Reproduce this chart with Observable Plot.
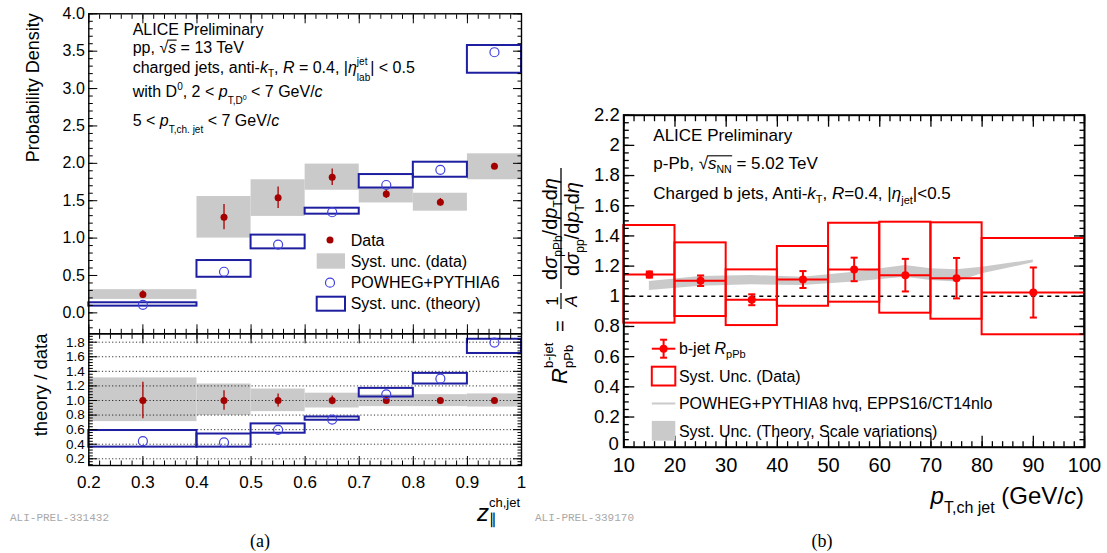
<!DOCTYPE html>
<html><head><meta charset="utf-8">
<script src="https://cdn.jsdelivr.net/npm/d3@7"></script>
<script src="https://cdn.jsdelivr.net/npm/@observablehq/plot@0.6"></script>
<style>
body{margin:0;background:#fff;}
#wrap{position:relative;width:1107px;height:553px;overflow:hidden;background:#fff;font-family:"Liberation Sans",Arial,sans-serif;}
</style></head><body><div id="wrap"></div>
<script>
// ---------- (a) D0-jet z distribution ----------
const zLo      = [0.2, 0.4, 0.5, 0.6, 0.7, 0.8, 0.9];
const zHi      = [0.4, 0.5, 0.6, 0.7, 0.8, 0.9, 1.0];
const zMid     = [0.3, 0.45, 0.55, 0.65, 0.75, 0.85, 0.95];
const dataVal  = [0.245, 1.28, 1.54, 1.815, 1.59, 1.48, 1.96];
const dataStat = [0.05, 0.17, 0.145, 0.11, 0.06, 0.05, 0.04];
const dataSysLo= [0.18, 1.00, 1.29, 1.64, 1.47, 1.36, 1.78];
const dataSysHi= [0.31, 1.556, 1.78, 1.99, 1.67, 1.60, 2.127];
const thVal    = [0.108, 0.55, 0.914, 1.346, 1.71, 1.913, 3.486];
const thLo     = [0.09, 0.476, 0.856, 1.32, 1.67, 1.814, 3.205];
const thHi     = [0.135, 0.70, 1.04, 1.40, 1.85, 2.015, 3.576];
// ratio theory / data
const ratStat  = [0.25, 0.135, 0.09, 0.06, 0.04, 0.03, 0.02];
const ratSysLo = [0.71, 0.793, 0.847, 0.897, 0.916, 0.916, 0.91];
const ratSysHi = [1.31, 1.226, 1.157, 1.10, 1.08, 1.08, 1.09];
const ratTh    = [0.442, 0.424, 0.597, 0.738, 1.084, 1.299, 1.795];
const ratThLo  = [0.36, 0.36, 0.551, 0.729, 1.048, 1.226, 1.645];
const ratThHi  = [0.588, 0.54, 0.679, 0.774, 1.166, 1.372, 1.84];
const aTopYTicks = [0, 0.5, 1, 1.5, 2, 2.5, 3, 3.5, 4];
const aXTicks    = [0.2, 0.3, 0.4, 0.5, 0.6, 0.7, 0.8, 0.9, 1];
const aRatTicks  = [0.2, 0.4, 0.6, 0.8, 1.0, 1.2, 1.4, 1.6, 1.8];

// ---------- (b) b-jet RpPb ----------
const ptLo    = [10, 20, 30, 40, 50, 60, 70, 80];
const ptHi    = [20, 30, 40, 50, 60, 70, 80, 100];
const ptMid   = [15, 25, 35, 45, 55, 65, 75, 90];
const rpPb    = [1.144, 1.103, 0.977, 1.111, 1.178, 1.14, 1.12, 1.025];
const rStat   = [0.02, 0.035, 0.036, 0.056, 0.078, 0.108, 0.134, 0.166];
const rSysLo  = [0.822, 0.866, 0.806, 0.934, 0.961, 0.888, 0.848, 0.745];
const rSysHi  = [1.469, 1.354, 1.175, 1.33, 1.484, 1.491, 1.487, 1.383];
const bandPt  = [15, 25, 35, 45, 55, 65, 70, 75, 80, 90];
const bandLo  = [1.038, 1.067, 1.076, 1.071, 1.094, 1.127, 1.105, 1.094, 1.149, 1.222];
const bandHi  = [1.098, 1.131, 1.138, 1.127, 1.16, 1.204, 1.182, 1.176, 1.193, 1.24];
const bYTicks = [0.2, 0.4, 0.6, 0.8, 1, 1.2, 1.4, 1.6, 1.8, 2, 2.2];
const bYZero  = [0];
const bXTicks = [10, 20, 30, 40, 50, 60, 70, 80, 90, 100];

// ---------- build tables ----------
const zRows = zMid.map((c, i) => ({lo: zLo[i], hi: zHi[i], c, v: dataVal[i], s: dataStat[i],
  sl: dataSysLo[i], sh: dataSysHi[i], t: thVal[i], tl: thLo[i], th: thHi[i],
  rs: ratStat[i], rsl: ratSysLo[i], rsh: ratSysHi[i], rt: ratTh[i], rtl: ratThLo[i], rth: ratThHi[i]}));
const bRows = ptMid.map((c, i) => ({lo: ptLo[i], hi: ptHi[i], c, v: rpPb[i], s: rStat[i], sl: rSysLo[i], sh: rSysHi[i]}));
const band = bandPt.map((x, i) => ({x, lo: bandLo[i], hi: bandHi[i]}));

const DRED = "#a50000", GREY = "#cacaca", BLUE = "#1e1ea0", CBLUE = "#4040e0", RED = "#ff0000";
const FONT = "'Liberation Sans', Arial, Helvetica, sans-serif";
const STYLE = {background: "transparent", overflow: "visible", fontFamily: FONT, color: "black", maxWidth: "none"};
const none = () => "";

function frameTicks(xMaj, xMin, yMaj, yMin, L, sw) {
  const out = [];
  for (const anchor of ["left", "right"]) {
    out.push(Plot.axisY({anchor, ticks: yMaj, tickSize: -L.yM, tickFormat: none, label: null, strokeWidth: sw}));
    out.push(Plot.axisY({anchor, ticks: yMin, tickSize: -L.ym, tickFormat: none, label: null, strokeWidth: sw}));
  }
  for (const anchor of ["top", "bottom"]) {
    out.push(Plot.axisX({anchor, ticks: xMaj, tickSize: -L.xM, tickFormat: none, label: null, strokeWidth: sw}));
    out.push(Plot.axisX({anchor, ticks: xMin, tickSize: -L.xm, tickFormat: none, label: null, strokeWidth: sw}));
  }
  return out;
}
const fmt1 = d => (+d).toFixed(1);
const fmtG = d => String(+(+d).toFixed(2));

const wrap = document.getElementById("wrap");
function place(el, left, top) {
  el.style.position = "absolute"; el.style.left = left + "px"; el.style.top = top + "px";
  wrap.appendChild(el);
}

// ---------- (a) top panel ----------
const capSym = {draw(ctx, size) { const w = Math.sqrt(size); ctx.moveTo(-w, 0); ctx.lineTo(w, 0); }};

const pTop = Plot.plot({
  width: 540, height: 340,
  marginLeft: 88.3, marginRight: 19, marginTop: 13.3, marginBottom: 6.7,
  style: STYLE,
  x: {domain: [0.2, 1]},
  y: {domain: [-0.28, 4.0]},
  marks: [
    Plot.rect(zRows, {x1: "lo", x2: "hi", y1: "sl", y2: "sh", fill: GREY}),
    Plot.rect(zRows, {x1: "lo", x2: "hi", y1: "tl", y2: "th", stroke: BLUE, strokeWidth: 2, fill: "none"}),
    Plot.ruleX(zRows, {x: "c", y1: d => d.v - d.s, y2: d => d.v + d.s, stroke: DRED, strokeWidth: 1.3}),
    Plot.dot(zRows, {x: "c", y: "v", r: 3.5, fill: DRED}),
    Plot.dot(zRows, {x: "c", y: "t", r: 4.5, stroke: CBLUE, strokeWidth: 1.2, fill: "none"}),
    Plot.axisY({ticks: aTopYTicks, tickSize: 0, tickPadding: 4, tickFormat: fmt1, label: null, fontSize: 16}),
    ...frameTicks(aXTicks, d3.range(0.2, 1.0001, 0.02), aTopYTicks, d3.range(-0.2, 4.0001, 0.1),
      {yM: 9, ym: 4.5, xM: 9, xm: 4.5}, 1),
    Plot.frame({stroke: "black", strokeWidth: 1.4})
  ]
});
place(pTop, 0, 0);

// ---------- (a) ratio panel ----------
const pRat = Plot.plot({
  width: 540, height: 200,
  marginLeft: 88.3, marginRight: 19, marginTop: 13.3, marginBottom: 55,
  style: STYLE,
  x: {domain: [0.2, 1]},
  y: {domain: [0.108, 1.915]},
  marks: [
    Plot.rect(zRows, {x1: "lo", x2: "hi", y1: "rsl", y2: "rsh", fill: GREY}),
    Plot.ruleY(aRatTicks, {stroke: "black", strokeWidth: 0.8, strokeDasharray: "1.2,2.2"}),
    Plot.rect(zRows, {x1: "lo", x2: "hi", y1: "rtl", y2: "rth", stroke: BLUE, strokeWidth: 2, fill: "none"}),
    Plot.ruleX(zRows, {x: "c", y1: d => 1 - d.rs, y2: d => 1 + d.rs, stroke: DRED, strokeWidth: 1.3}),
    Plot.dot(zRows, {x: "c", y: () => 1, r: 3.5, fill: DRED}),
    Plot.dot(zRows, {x: "c", y: "rt", r: 4.5, stroke: CBLUE, strokeWidth: 1.2, fill: "none"}),
    Plot.axisY({ticks: aRatTicks, tickSize: 0, tickPadding: 4, tickFormat: fmt1, label: null, fontSize: 13.5}),
    Plot.axisX({ticks: aXTicks, tickSize: 0, tickPadding: 10, tickFormat: fmtG, label: null, fontSize: 17}),
    ...frameTicks(aXTicks, d3.range(0.2, 1.0001, 0.02), aRatTicks, d3.range(0.12, 1.9, 0.04),
      {yM: 9, ym: 4.5, xM: 9, xm: 4.5}, 1),
    Plot.frame({stroke: "black", strokeWidth: 1.4})
  ]
});
place(pRat, 0, 320);

// ---------- (b) RpPb panel ----------
const pB = Plot.plot({
  width: 567, height: 380,
  marginLeft: 83.3, marginRight: 23, marginTop: 14.7, marginBottom: 33.3,
  style: STYLE,
  x: {domain: [10, 100]},
  y: {domain: [0, 2.2]},
  marks: [
    Plot.areaY(band, {x: "x", y1: "lo", y2: "hi", fill: GREY}),
    Plot.ruleY([1], {stroke: "black", strokeWidth: 1.6, strokeDasharray: "4,4"}),
    Plot.rect(bRows, {x1: "lo", x2: "hi", y1: "sl", y2: "sh", stroke: RED, strokeWidth: 2, fill: "none"}),
    Plot.ruleY(bRows, {y: "v", x1: "lo", x2: "hi", stroke: RED, strokeWidth: 2}),
    Plot.ruleX(bRows, {x: "c", y1: d => d.v - d.s, y2: d => d.v + d.s, stroke: RED, strokeWidth: 2}),
    Plot.dot(bRows, {x: "c", y: d => d.v + d.s, symbol: capSym, r: 2, stroke: RED, strokeWidth: 2}),
    Plot.dot(bRows, {x: "c", y: d => d.v - d.s, symbol: capSym, r: 2, stroke: RED, strokeWidth: 2}),
    Plot.dot(bRows, {x: "c", y: "v", r: 4, fill: RED}),
    Plot.axisY({ticks: bYTicks, tickSize: 0, tickPadding: 4, tickFormat: fmtG, label: null, fontSize: 18.5}),
    Plot.axisY({ticks: bYZero, tickSize: 0, tickPadding: 5, tickFormat: fmtG, label: null, fontSize: 18.5, dy: -3}),
    Plot.axisX({ticks: bXTicks, tickSize: 0, tickPadding: 11, tickFormat: fmtG, label: null, fontSize: 20}),
    ...frameTicks(bXTicks, d3.range(10, 100.1, 2), [...bYZero, ...bYTicks], d3.range(0, 2.2001, 0.05),
      {yM: 11, ym: 5.5, xM: 11, xm: 5.5}, 1.3),
    Plot.frame({stroke: "black", strokeWidth: 2})
  ]
});
place(pB, 540, 100);

// ---------- annotation overlay ----------
const ov = d3.select(wrap).append("svg").attr("width", 1107).attr("height", 553)
  .style("position", "absolute").style("left", "0px").style("top", "0px").style("overflow", "visible")
  .attr("font-family", FONT);

// rich text: segs = [{t, it, fs, off, back}]
function rich(parent, x, y, fs, segs, anchor = "start") {
  const t = parent.append("text").attr("x", x).attr("y", y).attr("font-size", fs).attr("text-anchor", anchor).attr("fill", "black");
  let cur = 0, prev = null;
  for (const s0 of segs) {
    const s = typeof s0 === "string" ? {t: s0} : s0;
    const off = s.off || 0;
    const sp = t.append("tspan").text(s.t).attr("dy", off - cur);
    cur = off;
    if (s.fs) sp.attr("font-size", s.fs);
    if (s.it) sp.attr("font-style", "italic");
    if (s.back && prev) sp.attr("dx", -prev.node().getComputedTextLength());
    if (s.dx) sp.attr("dx", s.dx);
    prev = sp;
  }
  return t;
}
function overlineChars(parent, textSel, i0, i1, y) {
  const n = textSel.node();
  const a = n.getExtentOfChar(i0), b = n.getExtentOfChar(i1);
  parent.append("line").attr("x1", a.x + a.width - 0.8).attr("x2", b.x + b.width + 0.5)
    .attr("y1", y).attr("y2", y).attr("stroke", "black").attr("stroke-width", 1.1);
}

// (a) texts
const ax = 132.7;
rich(ov, ax, 35, 16, ["ALICE Preliminary"]);
const l2 = rich(ov, ax, 52.7, 16, ["pp, ", "\u221A", {t: "s", it: true}, " = 13 TeV"]);
overlineChars(ov, l2, 4, 5, 52.7 - 12.6);
rich(ov, ax, 72.7, 16, ["charged jets, anti-", {t: "k", it: true}, {t: "T", fs: 10, off: 4}, {t: ", ", off: 0},
  {t: "R", it: true}, " = 0.4, |", {t: "\u03B7", it: true}, {t: "jet", fs: 10, off: -8}, {t: "lab", fs: 10, off: 8, back: true},
  {t: "| < 0.5", off: 0}]);
rich(ov, ax, 97.3, 16, ["with D", {t: "0", fs: 10, off: -7}, {t: ", 2 < ", off: 0}, {t: "p", it: true},
  {t: "T,D", fs: 10, off: 7}, {t: "0", fs: 7, off: 3}, {t: " < 7 GeV/", off: 0}, {t: "c", it: true}]);
rich(ov, ax, 126, 16, ["5 < ", {t: "p", it: true}, {t: "T,ch. jet", fs: 10, off: 7}, {t: " < 7 GeV/", off: 0}, {t: "c", it: true}]);

// (a) legend
ov.append("circle").attr("cx", 330).attr("cy", 240).attr("r", 3.5).attr("fill", DRED);
rich(ov, 350.7, 245.5, 16, ["Data"]);
ov.append("rect").attr("x", 316.7).attr("y", 253.3).attr("width", 28.3).attr("height", 15.4).attr("fill", GREY);
rich(ov, 350.7, 267.4, 16, ["Syst. unc. (data)"]);
ov.append("circle").attr("cx", 330).attr("cy", 282.7).attr("r", 4.5).attr("fill", "none").attr("stroke", CBLUE).attr("stroke-width", 1.2);
rich(ov, 350.7, 288.4, 16, ["POWHEG+PYTHIA6"]);
ov.append("rect").attr("x", 316.7).attr("y", 296.7).attr("width", 28.3).attr("height", 14).attr("fill", "none").attr("stroke", BLUE).attr("stroke-width", 2);
rich(ov, 350.7, 309.4, 16, ["Syst. unc. (theory)"]);

// (a) axis titles
rich(ov, 0, 0, 18, ["Probability Density"], "end").attr("transform", "translate(39.3,13.3) rotate(-90)");
rich(ov, 0, 0, 18.5, ["theory / data"], "end").attr("transform", "translate(47,333.5) rotate(-90)");
rich(ov, 520, 521, 24, [{t: "z", it: true}, {t: "\u2225", fs: 15, off: 3}, {t: "ch,jet", fs: 13, off: -14, back: true}], "end");

// (b) texts
const bx = 653.3;
rich(ov, bx, 140.7, 17, ["ALICE Preliminary"]);
const b2 = rich(ov, bx, 169.3, 17, ["p-Pb, ", "\u221A", {t: "s", it: true}, {t: "NN", fs: 10.5, off: 4}, {t: " = 5.02 TeV", off: 0}]);
overlineChars(ov, b2, 6, 9, 169.3 - 13.5);
rich(ov, bx, 199.3, 17, ["Charged b jets, Anti-", {t: "k", it: true}, {t: "T", fs: 11, off: 4}, {t: ", ", off: 0},
  {t: "R", it: true}, "=0.4, |", {t: "\u03B7", it: true}, {t: "jet", fs: 11, off: 5}, {t: "|<0.5", off: 0}]);

// (b) legend
const lgx0 = 651.8, lgx1 = 675.3, lgc = 663.6;
ov.append("line").attr("x1", lgx0).attr("x2", lgx1).attr("y1", 348.7).attr("y2", 348.7).attr("stroke", RED).attr("stroke-width", 2);
ov.append("line").attr("x1", lgc).attr("x2", lgc).attr("y1", 339.7).attr("y2", 357.7).attr("stroke", RED).attr("stroke-width", 2);
ov.append("line").attr("x1", lgc - 3.5).attr("x2", lgc + 3.5).attr("y1", 339.7).attr("y2", 339.7).attr("stroke", RED).attr("stroke-width", 2);
ov.append("line").attr("x1", lgc - 3.5).attr("x2", lgc + 3.5).attr("y1", 357.7).attr("y2", 357.7).attr("stroke", RED).attr("stroke-width", 2);
ov.append("circle").attr("cx", lgc).attr("cy", 348.7).attr("r", 4).attr("fill", RED);
rich(ov, 678.9, 354.4, 16, ["b-jet ", {t: "R", it: true}, {t: "pPb", fs: 11, off: 4}]);
ov.append("rect").attr("x", lgx0).attr("y", 366.7).attr("width", lgx1 - lgx0).attr("height", 18.8).attr("fill", "none").attr("stroke", RED).attr("stroke-width", 2);
rich(ov, 678.9, 381.7, 16, ["Syst. Unc. (Data)"]);
ov.append("line").attr("x1", lgx0).attr("x2", lgx1).attr("y1", 403.5).attr("y2", 403.5).attr("stroke", GREY).attr("stroke-width", 2);
rich(ov, 678.9, 409.2, 16, ["POWHEG+PYTHIA8 hvq, EPPS16/CT14nlo"]);
ov.append("rect").attr("x", lgx0).attr("y", 420.9).attr("width", lgx1 - lgx0).attr("height", 19.8).attr("fill", GREY);
rich(ov, 678.9, 436.7, 16, ["Syst. Unc. (Theory, Scale variations)"]);

// (b) x title
rich(ov, 1084, 504, 24, [{t: "p", it: true}, {t: "T,ch jet", fs: 16, off: 9}, {t: " (GeV/", off: 0}, {t: "c", it: true}, ")"], "end");

// (b) y title (rotated)
const gy = ov.append("g").attr("transform", "translate(561,384) rotate(-90)");
rich(gy, 0, 6, 22, [{t: "R", it: true}]);
rich(gy, 16, -8, 13, ["b-jet"]);
rich(gy, 16, 12, 13, ["pPb"]);
rich(gy, 52, 6, 20, ["="]);
rich(gy, 83, -3, 17, ["1"], "middle");
gy.append("line").attr("x1", 75).attr("x2", 91).attr("y1", 0).attr("y2", 0).attr("stroke", "black").attr("stroke-width", 1.2);
rich(gy, 83, 16, 17, ["A"], "middle").attr("font-style", "italic");
rich(gy, 155, -4, 20, ["d", {t: "\u03C3", it: true}, {t: "pPb", fs: 12, off: 5}, {t: "/d", off: 0}, {t: "p", it: true},
  {t: "T", fs: 12, off: 5}, {t: "d", off: 0}, {t: "\u03B7", it: true}], "middle");
gy.append("line").attr("x1", 95).attr("x2", 216).attr("y1", 0).attr("y2", 0).attr("stroke", "black").attr("stroke-width", 1.3);
rich(gy, 155, 18, 20, ["d", {t: "\u03C3", it: true}, {t: "pp", fs: 12, off: 5}, {t: "/d", off: 0}, {t: "p", it: true},
  {t: "T", fs: 12, off: 5}, {t: "d", off: 0}, {t: "\u03B7", it: true}], "middle");

// footers
ov.append("text").attr("x", 10).attr("y", 521).attr("font-family", "'Liberation Mono', 'DejaVu Sans Mono', monospace")
  .attr("font-size", 11).attr("fill", "#a8a8a8").text("ALI-PREL-331432");
ov.append("text").attr("x", 535).attr("y", 521).attr("font-family", "'Liberation Mono', 'DejaVu Sans Mono', monospace")
  .attr("font-size", 11).attr("fill", "#a8a8a8").text("ALI-PREL-339170");
ov.append("text").attr("x", 260).attr("y", 547).attr("text-anchor", "middle").attr("font-family", "'Liberation Serif', 'Times New Roman', serif")
  .attr("font-size", 18).text("(a)");
ov.append("text").attr("x", 822).attr("y", 547).attr("text-anchor", "middle").attr("font-family", "'Liberation Serif', 'Times New Roman', serif")
  .attr("font-size", 18).text("(b)");
</script></body></html>
